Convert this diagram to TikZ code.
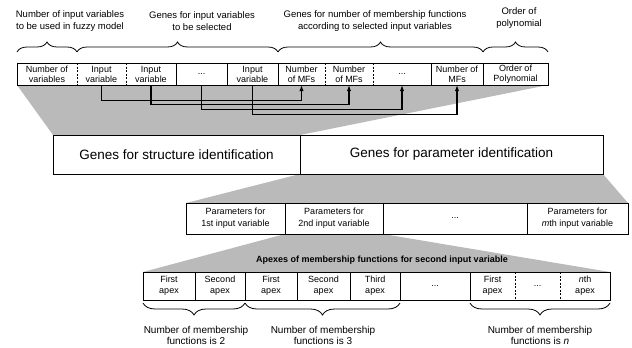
\documentclass[tikz,border=0pt]{standalone}
\usepackage{fontspec}
\setmainfont{Liberation Sans}
\usetikzlibrary{arrows.meta,decorations.pathreplacing}

\tikzset{
  cell/.style={inner sep=0pt, align=center, font=\fontsize{9}{10}\selectfont},
  toprow/.style={cell, minimum height=22pt},
  note/.style={inner sep=0pt, align=center, font=\fontsize{9.5}{12}\selectfont},
  halftone/.style={fill=black!27},
  frame/.style={draw, line width=0.8pt, fill=white},
  sep/.style={line width=0.8pt, dash pattern=on 2pt off 1.5pt},
  link/.style={line width=1.1pt, -{Latex[length=6pt,width=4.5pt]}},
  gbrace/.style={decorate, decoration={brace, amplitude=#1}, line width=0.8pt},
}

\begin{document}
\begin{tikzpicture}[x=1pt, y=-1pt]
\useasboundingbox (0,0) rectangle (632,348);

% shaded zoom regions
\fill[halftone] (17,85) -- (548,85) -- (300,135) -- (53,135) -- cycle;
\fill[halftone] (300,174) -- (603,174) -- (628,203) -- (186,203) -- cycle;
\fill[halftone] (285,234) -- (383,234) -- (610,272) -- (143,272) -- cycle;

% chromosome for structure
\draw[frame] (17,63) rectangle (548,85);
\draw[sep] (77,63) -- (77,85);
\draw[sep] (126,63) -- (126,85);
\draw[line width=0.8pt] (176,63) -- (176,85);
\draw[line width=0.8pt] (227,63) -- (227,85);
\draw[line width=0.8pt] (278,63) -- (278,85);
\draw[sep] (325,63) -- (325,85);
\draw[sep] (373,63) -- (373,85);
\draw[line width=0.8pt] (431,63) -- (431,85);
\draw[line width=0.8pt] (483,63) -- (483,85);

\node[toprow] (nv) at (47,74) {Number of\\variables};
\node[toprow] (iv1) at (101.5,74) {Input\\variable};
\node[toprow] (iv2) at (151,74) {Input\\variable};
\node[toprow] (ivd) at (201.5,74) {...};
\node[toprow] (ivn) at (252.5,74) {Input\\variable};
\node[toprow] (mf1) at (301.5,74) {Number\\of MFs};
\node[toprow] (mf2) at (349,74) {Number\\of MFs};
\node[toprow] (mfd) at (402,74) {...};
\node[toprow] (mfn) at (457,74) {Number of\\MFs};
\node[toprow] (op) at (515.5,74) {Order of\\Polynomial};

% braces and labels above
\draw[gbrace=10pt] (17,52) -- (77,52);
\draw[gbrace=10pt] (77,52) -- (278,52);
\draw[gbrace=10pt] (278,52) -- (483,52);
\draw[gbrace=10pt] (483,52) -- (548,52);
\node[note] (lnv) at (70,21.5) {Number of input variables\\to be used in fuzzy model};
\node[note] (liv) at (202,21.5) {Genes for input variables\\to be selected};
\node[note] (lmf) at (375,21.5) {Genes for number of membership functions\\according to selected input variables};
\node[note] (lop) at (519,18) {Order of\\polynomial};

% selected variable -> its number of MFs
\draw[link] (iv1.south) -- ++(0,15) -| (mf1.south);
\draw[link] (iv2.south) -- ++(0,19) -| (mf2.south);
\draw[link] (ivd.south) -- ++(0,24) -| (mfd.south);
\draw[link] (ivn.south) -- ++(0,29) -| (mfn.south);

% whole chromosome
\draw[frame] (53,135) rectangle (603,174);
\draw[line width=0.8pt] (300,135) -- (300,174);
\node[cell, font=\fontsize{13.5}{15}\selectfont] (gs) at (176.5,154.5) {Genes for structure identification};
\node[cell, font=\fontsize{13.5}{15}\selectfont] (gp) at (451.5,154.5) {Genes for parameter identification};

% parameters per input variable
\draw[frame] (186,203) rectangle (628,234);
\draw[line width=0.8pt] (285,203) -- (285,234);
\draw[line width=0.8pt] (383,203) -- (383,234);
\draw[line width=0.8pt] (527,203) -- (527,234);
\node[cell, font=\fontsize{9}{12}\selectfont] (p1) at (235.5,218.5) {Parameters for\\1st input variable};
\node[cell, font=\fontsize{9}{12}\selectfont] (p2) at (334,218.5) {Parameters for\\2nd input variable};
\node[cell] (pd) at (455,218.5) {...};
\node[cell, font=\fontsize{9}{12}\selectfont] (pm) at (577.5,218.5) {Parameters for\\\textit{m}th input variable};

% apexes
\node[cell, font=\bfseries\fontsize{9}{10}\selectfont] (apt) at (382,260) {Apexes of membership functions for second input variable};
\draw[frame] (143,272) rectangle (610,300);
\draw[line width=0.8pt] (195,272) -- (195,300);
\draw[line width=0.8pt] (245,272) -- (245,300);
\draw[line width=0.8pt] (297,272) -- (297,300);
\draw[line width=0.8pt] (350,272) -- (350,300);
\draw[line width=0.8pt] (400,272) -- (400,300);
\draw[line width=0.8pt] (470,272) -- (470,300);
\draw[sep] (515,272) -- (515,300);
\draw[sep] (560,272) -- (560,300);
\node[cell, font=\fontsize{9}{11}\selectfont] (a1) at (169,286) {First\\apex};
\node[cell, font=\fontsize{9}{11}\selectfont] (a2) at (220,286) {Second\\apex};
\node[cell, font=\fontsize{9}{11}\selectfont] (a3) at (271,286) {First\\apex};
\node[cell, font=\fontsize{9}{11}\selectfont] (a4) at (323.5,286) {Second\\apex};
\node[cell, font=\fontsize{9}{11}\selectfont] (a5) at (375,286) {Third\\apex};
\node[cell] (ad) at (435,286) {...};
\node[cell, font=\fontsize{9}{11}\selectfont] (a6) at (492.5,286) {First\\apex};
\node[cell] (a7) at (537.5,286) {...};
\node[cell, font=\fontsize{9}{11}\selectfont] (an) at (585,286) {\textit{n}th\\apex};

% braces and labels below
\draw[gbrace=12pt] (245,303) -- (143,303);
\draw[gbrace=12pt] (400,303) -- (245,303);
\draw[gbrace=12pt] (610,303) -- (470,303);
\node[note, font=\fontsize{10}{11}\selectfont] (b2) at (196,335.5) {Number of membership\\functions is 2};
\node[note, font=\fontsize{10}{11}\selectfont] (b3) at (323,335.5) {Number of membership\\functions is 3};
\node[note, font=\fontsize{10}{11}\selectfont] (bn) at (540,335.5) {Number of membership\\functions is \textit{n}};
\end{tikzpicture}
\end{document}
